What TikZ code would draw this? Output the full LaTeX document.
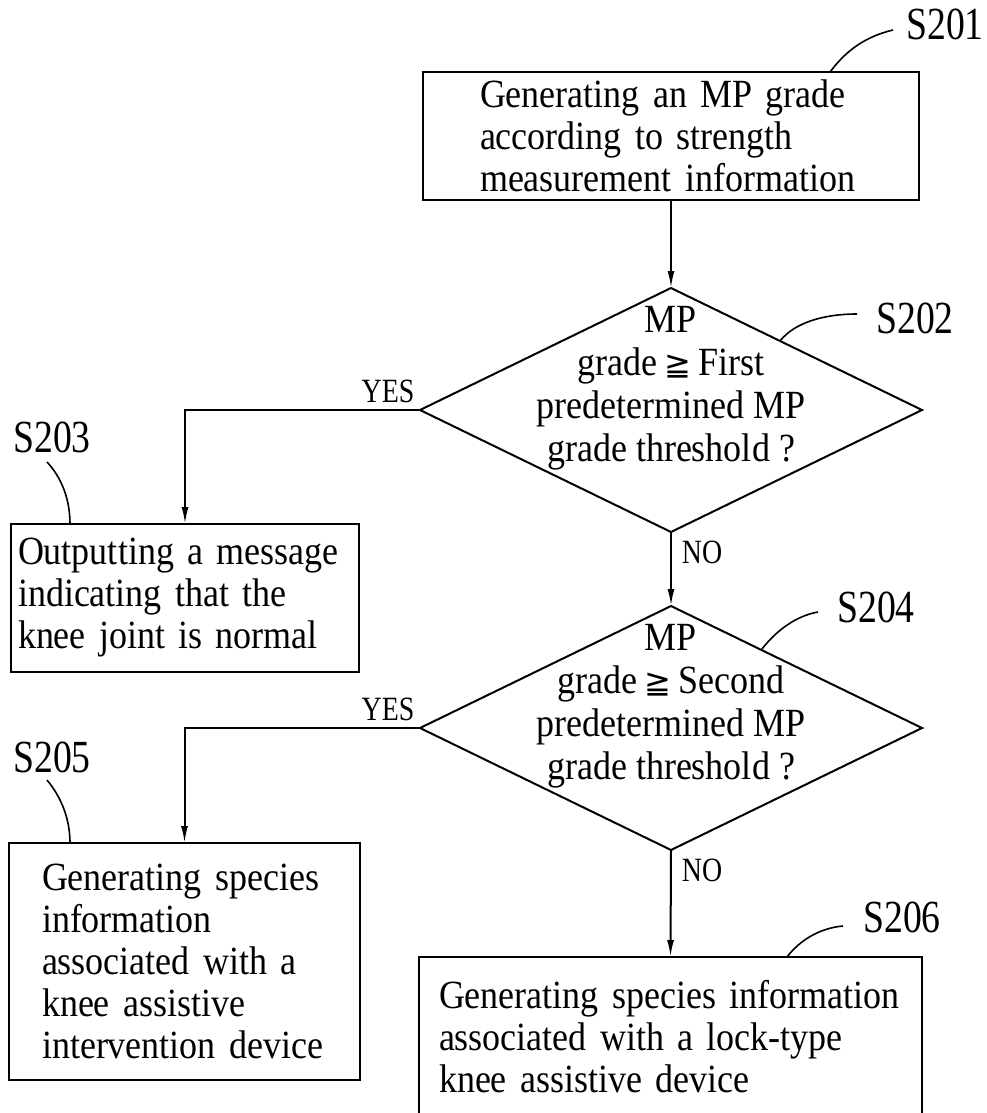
\documentclass[tikz,border=0pt]{standalone}
\usepackage{fontspec}
\setmainfont{Liberation Serif}[FakeStretch=0.9]
\newfontfamily\condf{Liberation Serif}[FakeStretch=0.82]
\newfontfamily\symf{DejaVu Sans}
\usetikzlibrary{shapes.geometric,arrows.meta}
\newcommand{\mygeq}{\,{\symf\fontsize{32}{32}\selectfont ≧}\,}
\newcommand{\boxfont}{\fontsize{40}{42}\selectfont\spaceskip=6.5pt plus 2pt minus 1pt\relax\hyphenpenalty=10000\relax}
\tikzset{
  box/.style={draw, line width=2pt, align=left, inner sep=0pt, outer sep=0pt,
    font=\boxfont},
  dia/.style={draw, line width=2pt, shape=diamond, minimum width=502pt, minimum height=244pt,
    inner sep=0pt, outer sep=0pt},
  dtext/.style={align=center, font=\fontsize{40}{43}\selectfont, inner sep=0pt},
  lab/.style={font=\condf\fontsize{46}{46}\selectfont, inner sep=0pt},
  yn/.style={font=\condf\fontsize{34}{34}\selectfont, inner sep=0pt},
  conn/.style={line width=2pt, -{Latex[length=17pt,width=7pt]}},
  lead/.style={line width=1.6pt}
}
\begin{document}
\begin{tikzpicture}[x=1pt,y=-1pt]
\clip (0,0) rectangle (987,1113);
\fill[white] (0,0) rectangle (987,1113);

% boxes
\node[box, minimum width=496pt, minimum height=128pt, text width=382pt, inner xsep=57pt] (s201) at (671,136)
  {Generating an MP grade\\according to strength\\measurement information};
\node[dia] (d1) at (671,410) {};
\node[dtext] (t202) at (671,388) {MP\\grade\mygeq First\\predetermined MP\\grade threshold ?};
\node[dia] (d2) at (671,728) {};
\node[dtext] (t204) at (671,706) {MP\\grade\mygeq Second\\predetermined MP\\grade threshold ?};
\node[box, minimum width=348pt, minimum height=148pt, text width=334pt, inner xsep=7pt] (s203) at (185,598)
  {Outputting a message\\indicating that the\\knee joint is normal};
\node[box, minimum width=351pt, minimum height=237pt, text width=285pt, inner xsep=33pt] (s205) at (184.5,961.5)
  {Generating species\\information\\associated with a\\knee assistive\\intervention device};
\node[box, minimum width=503pt, minimum height=160pt, text width=463pt, inner xsep=20pt] (s206) at (670.5,1037)
  {Generating species information\\associated with a lock-type\\knee assistive device};

% connectors
\draw[conn] (s201.south) -- (d1.north);
\draw[conn] (d1.south) -- (d2.north);
\draw[conn] (d1.west) -| (s203.north);
\draw[conn] (d2.west) -| (s205.north);
\draw[conn] (d2.south) -- (s206.north);

% yes / no
\node[yn] (y1) at (388,391) {YES};
\node[yn] (n1) at (702,552) {NO};
\node[yn] (y2) at (388,709) {YES};
\node[yn] (n2) at (702,870) {NO};

% step labels
\node[lab] (l201) at (945,24) {S201};
\node[lab] (l202) at (915,318) {S202};
\node[lab] (l203) at (52,437) {S203};
\node[lab] (l204) at (876,607) {S204};
\node[lab] (l205) at (52,757) {S205};
\node[lab] (l206) at (902,917) {S206};

\coordinate (a201) at (830,72);
\coordinate (b201) at (893,30);
\coordinate (a202) at (780,341);
\coordinate (b202) at (857,314);
\coordinate (a203) at (47,462);
\coordinate (b203) at (70,524);
\coordinate (a204) at (762,649);
\coordinate (b204) at (818,612);
\coordinate (a205) at (47,780);
\coordinate (b205) at (70,843);
\coordinate (a206) at (787,957);
\coordinate (b206) at (843,926);

\draw[lead] (a201) .. controls (848,48) and (868,36) .. (b201);
\draw[lead] (a202) .. controls (795,322) and (825,314) .. (b202);
\draw[lead] (a203) .. controls (62,478) and (70,500) .. (b203);
\draw[lead] (a204) .. controls (775,632) and (795,616) .. (b204);
\draw[lead] (a205) .. controls (62,798) and (70,820) .. (b205);
\draw[lead] (a206) .. controls (800,940) and (820,928) .. (b206);
\end{tikzpicture}
\end{document}
